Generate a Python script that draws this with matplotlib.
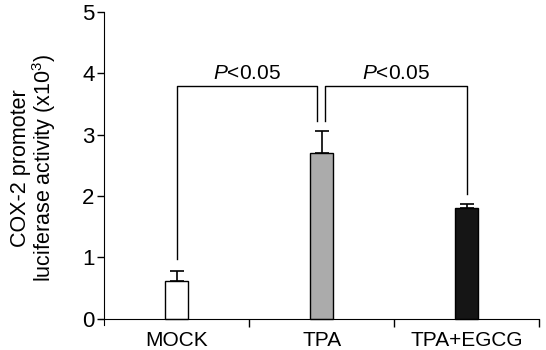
import matplotlib
matplotlib.use('Agg')
import matplotlib.pyplot as plt

plt.rcParams['font.family'] = ['Liberation Sans', 'DejaVu Sans']
plt.rcParams['mathtext.fontset'] = 'custom'
plt.rcParams['mathtext.rm'] = 'Liberation Sans'
plt.rcParams['mathtext.it'] = 'Liberation Sans:italic'

# data
groups = ['MOCK', 'TPA', 'TPA+EGCG']
means = [0.62, 2.71, 1.81]
errors = [0.16, 0.35, 0.06]
bar_colors = ['white', '#ababab', '#151515']

# significance brackets: (x_left, x_right, y_left_end, y_right_end, y_top)
brackets = [
    (0.5, 1.47, 0.98, 3.23, 3.79),
    (1.52, 2.5, 3.23, 2.04, 3.79),
]
sig_text = '$P$<0.05'

fig = plt.figure(figsize=(5.46, 3.5), dpi=100)
# y=0 at 319 px, 61.4 px per unit, x: 145 px per category
ax = fig.add_axes([100 / 546, 25 / 350, 439 / 546, 313 / 350])

xpos = [0.5, 1.5, 2.5]
ax.bar(xpos, means, width=0.16, color=bar_colors, edgecolor='black', linewidth=1.0, zorder=2)
ax.errorbar(xpos, means, yerr=[[0, 0, 0], errors], fmt='none', ecolor='black',
            elinewidth=1.2, capsize=5, capthick=1.2, zorder=3)

for xl, xr, yl, yr, yt in brackets:
    ax.plot([xl, xl, xr, xr], [yl, yt, yt, yr], color='black', lw=1.0)
    ax.text((xl + xr) / 2, yt + 0.12, sig_text, ha='center', va='baseline', fontsize=15)

ax.set_xlim(-0.03, 3.0)
ax.set_ylim(-0.1, 5.0)
ax.spines['top'].set_visible(False)
ax.spines['right'].set_visible(False)
ax.spines['left'].set_position(('data', 0))
ax.spines['bottom'].set_position(('data', 0))

ax.set_yticks([0, 1, 2, 3, 4, 5])
ax.tick_params(axis='y', direction='out', length=5, width=1, labelsize=16, pad=2)

ax.set_xticks([1, 2, 3])
ax.set_xticklabels([])
ax.set_xticks(xpos, minor=True)
ax.set_xticklabels(groups, minor=True)
ax.tick_params(axis='x', which='major', direction='out', length=6, width=1)
ax.tick_params(axis='x', which='minor', length=0, labelsize=15, pad=9)

fig.text(34 / 546, 1 - 168 / 350, 'COX-2 promoter\nluciferase activity (x10$^{3}$)',
         rotation=90, ha='center', va='center', multialignment='center', fontsize=15.5,
         linespacing=1.0)

fig.savefig('out.png', dpi=100)
